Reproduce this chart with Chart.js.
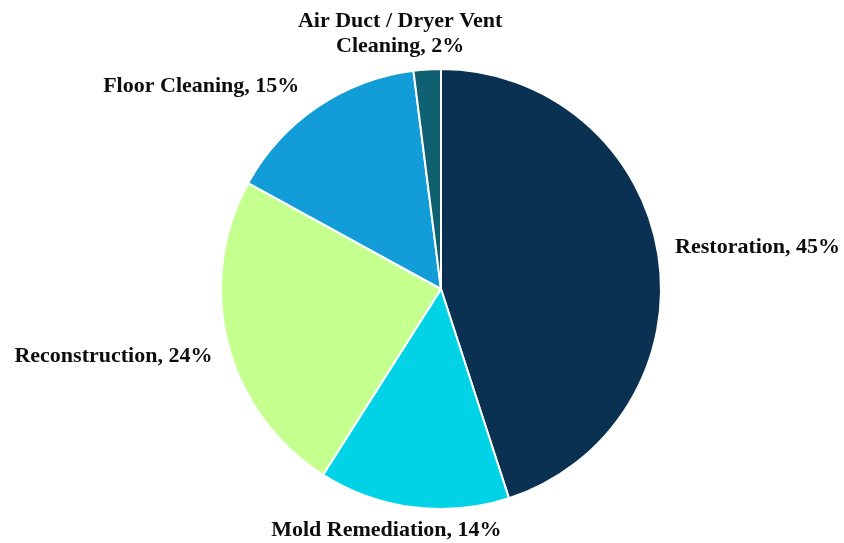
<!DOCTYPE html>
<html>
<head>
<meta charset="utf-8">
<script src="https://cdn.jsdelivr.net/npm/chart.js@4"></script>
<style>
  html, body { margin: 0; padding: 0; background: #ffffff; }
  #wrap { width: 844px; height: 543px; }
</style>
</head>
<body>
<div id="wrap"><canvas id="pieChart" width="844" height="543"></canvas></div>
<script>
// Chart data
const categories = ['Restoration', 'Mold Remediation', 'Reconstruction', 'Floor Cleaning', 'Air Duct / Dryer Vent Cleaning'];
const shares = [45, 14, 24, 15, 2];
const sliceColors = ['#0B3152', '#00D3E6', '#C5FF8E', '#129CD8', '#0F6070'];
// label lines as written in the picture
const labelLines = [
    ['Restoration, 45%'],
    ['Mold Remediation, 14%'],
    ['Reconstruction, 24%'],
    ['Floor Cleaning, 15%'],
    ['Air Duct / Dryer Vent', 'Cleaning, 2%']
];
// small hand nudges so labels sit where the original put them
const labelNudge = [[1, -5], [-25, 7], [0, 9], [-9, -7], [-26, -7]];

// Draw the outside labels next to each slice
const outsideLabels = {
    id: 'outsideLabels',
    afterDatasetsDraw(chart) {
        const ctx = chart.ctx;
        const arcs = chart.getDatasetMeta(0).data;
        ctx.save();
        ctx.font = 'bold 22px "Liberation Serif", "Times New Roman", serif';
        ctx.fillStyle = '#0d0d0d';
        ctx.textBaseline = 'middle';
        const lineH = 25;
        arcs.forEach(function (arc, i) {
            const mid = (arc.startAngle + arc.endAngle) / 2;
            const dx = Math.cos(mid);
            const dy = Math.sin(mid);
            const r = arc.outerRadius + 16;
            const x = arc.x + dx * r + labelNudge[i][0];
            const y = arc.y + dy * r + labelNudge[i][1];
            const lines = labelLines[i];
            let align = 'center';
            if (dx > 0.35) align = 'left';
            else if (dx < -0.35) align = 'right';
            ctx.textAlign = align;
            let top = y;
            if (align === 'center' && dy < 0) {
                top = y - (lines.length - 1) * lineH;
            } else if (align !== 'center') {
                top = y - (lines.length - 1) * lineH / 2;
            }
            lines.forEach(function (line, k) {
                ctx.fillText(line, x, top + k * lineH);
            });
        });
        ctx.restore();
    }
};

const ctx = document.getElementById('pieChart').getContext('2d');
const pieChart = new Chart(ctx, {
    type: 'pie',
    data: {
        labels: categories,
        datasets: [{
            data: shares,
            backgroundColor: sliceColors,
            borderColor: '#ffffff',
            borderWidth: 2
        }]
    },
    options: {
        responsive: false,
        animation: false,
        layout: {
            padding: { top: 68, bottom: 33, left: 140, right: 102 }
        },
        plugins: {
            legend: { display: false },
            tooltip: { enabled: false }
        }
    },
    plugins: [outsideLabels]
});
</script>
</body>
</html>
